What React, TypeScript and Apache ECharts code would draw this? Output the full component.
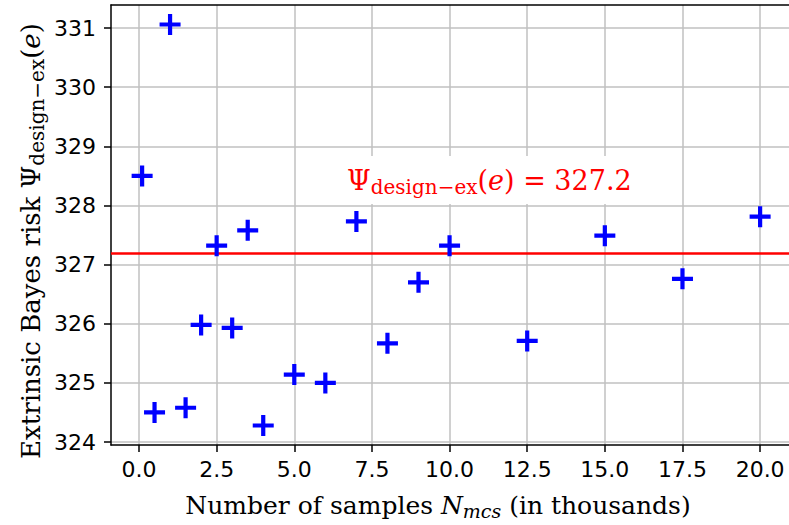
import React, { useEffect, useRef } from "react";
import * as echarts from "echarts";

// Number of samples (in thousands)
const sampleThousands = [0.1, 0.5, 1.0, 1.5, 2.0, 2.5, 3.0, 3.5, 4.0, 5.0, 6.0, 7.0, 8.0, 9.0, 10.0, 12.5, 15.0, 17.5, 20.0];
// Extrinsic Bayes risk estimates
const bayesRisk = [328.5, 324.5, 331.06, 324.58, 325.98, 327.32, 325.93, 327.58, 324.28, 325.14, 325.0, 327.73, 325.67, 326.7, 327.32, 325.71, 327.49, 326.76, 327.81];
const referenceRisk = 327.2;
const xTicks = [0, 2.5, 5, 7.5, 10, 12.5, 15, 17.5, 20];
const yTicks = [324, 325, 326, 327, 328, 329, 330, 331];

const SERIF = "DejaVu Serif";
const PLUS = "path://M8,0H12V8H20V12H12V20H8V12H0V8H8Z";

export default function App() {
  const ref = useRef<HTMLDivElement>(null);
  useEffect(() => {
    if (!ref.current) return;
    const chart = echarts.init(ref.current, undefined, { renderer: "svg" });
    const xMin = -0.902;
    const xMax = 20.93;
    const axisLineStyle = { color: "#000", width: 1.5 };
    chart.setOption({
      animation: false,
      backgroundColor: "#fff",
      grid: { left: 111, right: 0, top: 5, bottom: 80, containLabel: false },
      xAxis: [
        {
          type: "value",
          min: xMin,
          max: xMax,
          axisLine: { show: true, onZero: false, lineStyle: axisLineStyle },
          axisTick: { show: true, length: 7, lineStyle: axisLineStyle, customValues: xTicks },
          axisLabel: {
            customValues: xTicks,
            formatter: (v: number) => v.toFixed(1),
            fontFamily: "DejaVu Sans",
            fontSize: 22,
            color: "#000",
            margin: 13,
          },
          splitLine: { show: true, lineStyle: { color: "#c0c0c0", width: 1.5 } },
        },
        {
          type: "value",
          position: "top",
          min: xMin,
          max: xMax,
          axisLine: { show: true, onZero: false, lineStyle: axisLineStyle },
          axisTick: { show: false },
          axisLabel: { show: false },
          splitLine: { show: false },
        },
      ],
      yAxis: {
        type: "value",
        min: 323.95,
        max: 331.39,
        axisLine: { show: true, onZero: false, lineStyle: axisLineStyle },
        axisTick: { show: true, length: 7, lineStyle: axisLineStyle, customValues: yTicks },
        axisLabel: {
          customValues: yTicks,
          formatter: (v: number) => String(v),
          fontFamily: "DejaVu Sans",
          fontSize: 22,
          color: "#000",
          margin: 15,
        },
        splitLine: { show: true, lineStyle: { color: "#c0c0c0", width: 1.5 } },
      },
      series: [
        {
          type: "scatter",
          xAxisIndex: 0,
          data: sampleThousands.map((x, i) => [x, bayesRisk[i]]),
          symbol: PLUS,
          symbolSize: 21,
          itemStyle: { color: "#0000ff", opacity: 1 },
          z: 5,
          markLine: {
            silent: true,
            symbol: "none",
            label: { show: false },
            lineStyle: { color: "#ff0000", width: 2.5, type: "solid" },
            data: [{ yAxis: referenceRisk }],
          },
        },
      ],
      graphic: [
        {
          type: "rect",
          z: 50,
          shape: { x: 338, y: 156, width: 304, height: 48 },
          style: { fill: "#fff" },
        },
        {
          type: "text",
          z: 51,
          x: 347,
          y: 180,
          style: {
            text: "{t|Ψ}{sub|design−ex}{t|(}{it|e}{t|) = " + referenceRisk.toFixed(1) + "}",
            align: "left",
            verticalAlign: "middle",
            rich: {
              t: { fontFamily: SERIF, fontSize: 27, fill: "#ff0000" },
              it: { fontFamily: SERIF, fontSize: 27, fontStyle: "italic", fill: "#ff0000" },
              sub: { fontFamily: SERIF, fontSize: 20, fill: "#ff0000", padding: [13, 0, 0, 0] },
            },
          },
        },
        {
          type: "text",
          x: 438,
          y: 505,
          style: {
            text: "{t|Number of samples }{it|N}{sub|mcs}{t| (in thousands)}",
            align: "center",
            verticalAlign: "middle",
            rich: {
              t: { fontFamily: SERIF, fontSize: 25, fill: "#000" },
              it: { fontFamily: SERIF, fontSize: 25, fontStyle: "italic", fill: "#000" },
              sub: { fontFamily: SERIF, fontSize: 19, fontStyle: "italic", fill: "#000", padding: [12, 0, 0, 0] },
            },
          },
        },
        {
          type: "text",
          x: 31,
          y: 241,
          rotation: Math.PI / 2,
          style: {
            text: "{t|Extrinsic Bayes risk Ψ}{sub|design−ex}{t|(}{it|e}{t|)}",
            align: "center",
            verticalAlign: "middle",
            rich: {
              t: { fontFamily: SERIF, fontSize: 26, fill: "#000" },
              it: { fontFamily: SERIF, fontSize: 26, fontStyle: "italic", fill: "#000" },
              sub: { fontFamily: SERIF, fontSize: 20, fill: "#000", padding: [12, 0, 0, 0] },
            },
          },
        },
      ],
    });
    return () => chart.dispose();
  }, []);
  return <div ref={ref} style={{ width: 789, height: 525, position: "absolute", left: 0, top: 0 }} />;
}
